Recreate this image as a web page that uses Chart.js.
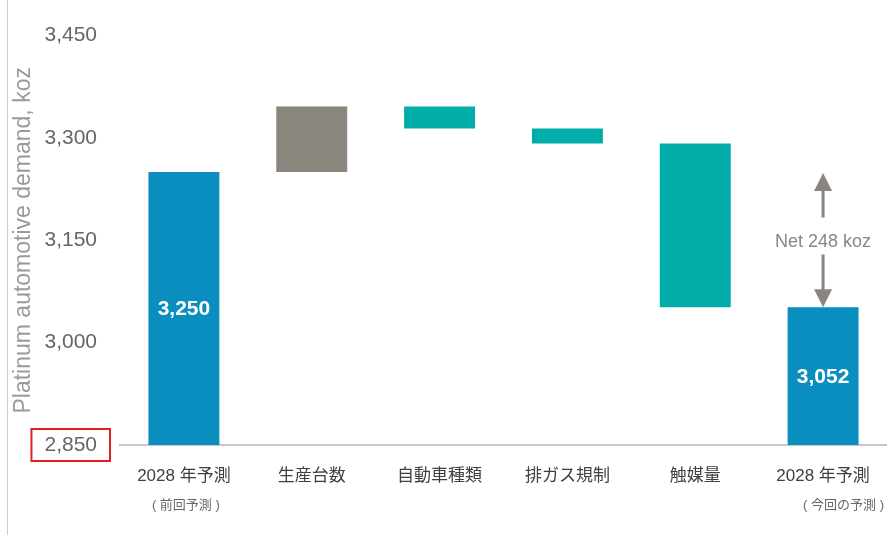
<!DOCTYPE html>
<html>
<head>
<meta charset="utf-8">
<script src="https://cdn.jsdelivr.net/npm/chart.js@4"></script>
<style>
  html, body { margin: 0; padding: 0; background: #ffffff; }
  #c { display: block; }
</style>
</head>
<body>
<canvas id="c" width="887" height="535"></canvas>
<script>
// Waterfall of 2028 platinum automotive demand, previous vs. current forecast (koz)
const categories = ['2028 年予測', '生産台数', '自動車種類', '排ガス規制', '触媒量', '2028 年予測'];
const subLabels = ['( 前回予測 )', '', '', '', '', '( 今回の予測 )'];
const baseline = 2850;
const previousForecast = 3250;
const stepChanges = [96, -32, -22, -240];
const currentForecast = 3052;
const yTicks = [2850, 3000, 3150, 3300, 3450];
const netLabel = 'Net 248 koz';
const highlightedTick = 2850;

const FONT = "'Liberation Sans', Arial, 'Noto Sans CJK JP', sans-serif";
const BLUE = '#0A8EBF', GREY = '#8B867D', TEAL = '#00ADA8';

// floating [from, to] ranges for each bar
const ranges = [[baseline, previousForecast]];
let level = previousForecast;
stepChanges.forEach(d => { ranges.push([level, level + d]); level += d; });
ranges.push([baseline, currentForecast]);

const barColors = [BLUE, GREY, TEAL, TEAL, TEAL, BLUE];
const fmt = v => Number(v).toLocaleString('en-US');

const decorations = {
  id: 'decorations',
  beforeDraw(chart) {
    const ctx = chart.ctx;
    ctx.save();
    ctx.strokeStyle = '#cccccc';
    ctx.lineWidth = 1;
    ctx.beginPath();
    ctx.moveTo(7.5, 0);
    ctx.lineTo(7.5, chart.height);
    ctx.stroke();
    ctx.restore();
  },
  afterDraw(chart) {
    const ctx = chart.ctx;
    const xs = chart.scales.x, ys = chart.scales.y;
    const meta = chart.getDatasetMeta(0);
    ctx.save();

    // values written inside the two forecast bars
    ctx.fillStyle = '#ffffff';
    ctx.font = 'bold 21px ' + FONT;
    ctx.textAlign = 'center';
    ctx.textBaseline = 'middle';
    [[0, previousForecast], [5, currentForecast]].forEach(([i, v]) => {
      const bar = meta.data[i];
      ctx.fillText(fmt(v), bar.x, (bar.y + bar.base) / 2 + 1);
    });

    // second-line notes under the first and last categories
    ctx.fillStyle = '#666666';
    ctx.font = '13px ' + FONT;
    ctx.textAlign = 'left';
    ctx.fillText(subLabels[0], xs.getPixelForValue(0) - 32, 505);
    ctx.fillText(subLabels[5], xs.getPixelForValue(5) - 20, 505);

    // net change arrows
    const ax = xs.getPixelForValue(5);
    const yTop = ys.getPixelForValue(previousForecast);
    const yBot = ys.getPixelForValue(currentForecast);
    const yMid = (yTop + yBot) / 2 + 2;
    ctx.fillStyle = GREY;
    ctx.strokeStyle = GREY;
    ctx.lineWidth = 3;
    ctx.beginPath();
    ctx.moveTo(ax, yTop + 18); ctx.lineTo(ax, yMid - 24);
    ctx.moveTo(ax, yMid + 13); ctx.lineTo(ax, yBot - 17);
    ctx.stroke();
    ctx.beginPath();
    ctx.moveTo(ax, yTop + 1); ctx.lineTo(ax - 9, yTop + 19); ctx.lineTo(ax + 9, yTop + 19); ctx.closePath();
    ctx.fill();
    ctx.beginPath();
    ctx.moveTo(ax, yBot); ctx.lineTo(ax - 9, yBot - 18); ctx.lineTo(ax + 9, yBot - 18); ctx.closePath();
    ctx.fill();
    ctx.font = '18px ' + FONT;
    ctx.textAlign = 'center';
    ctx.fillText(netLabel, ax, yMid);

    // red frame around the axis minimum label
    ctx.font = '21px ' + FONT;
    const w = ctx.measureText(fmt(highlightedTick)).width;
    const right = ys.right - ys.options.ticks.padding;
    const cy = ys.getPixelForValue(highlightedTick);
    ctx.strokeStyle = '#E02020';
    ctx.lineWidth = 2;
    ctx.strokeRect(right - w - 13, cy - 16, w + 26, 32);
    ctx.restore();
  }
};

new Chart(document.getElementById('c'), {
  type: 'bar',
  data: {
    labels: categories,
    datasets: [{
      data: ranges,
      backgroundColor: barColors,
      borderWidth: 0,
      categoryPercentage: 0.555,
      barPercentage: 1.0
    }]
  },
  options: {
    responsive: false,
    animation: false,
    devicePixelRatio: 1,
    layout: { padding: { top: 35, left: 0, right: 0, bottom: 0 } },
    plugins: { legend: { display: false }, tooltip: { enabled: false } },
    scales: {
      x: {
        grid: { display: false, drawTicks: false },
        border: { display: true, color: '#c8c8c8', width: 2 },
        ticks: {
          color: '#404040',
          font: { size: 17, family: FONT },
          padding: 21,
          autoSkip: false,
          maxRotation: 0,
          minRotation: 0
        },
        afterFit(s) { s.height = 90; s.paddingLeft = 0; s.paddingRight = 0; }
      },
      y: {
        min: baseline,
        max: 3450,
        grid: { display: false, drawTicks: false },
        border: { display: false },
        afterBuildTicks(s) { s.ticks = yTicks.map(v => ({ value: v })); },
        ticks: {
          color: '#666666',
          font: { size: 21, family: FONT },
          padding: 23,
          callback: v => fmt(v)
        },
        title: {
          display: true,
          text: 'Platinum automotive demand, koz',
          color: '#9a9a9a',
          font: { size: 23, family: FONT },
          padding: { top: 10, bottom: 0 }
        },
        afterFit(s) { s.width = 120; }
      }
    }
  },
  plugins: [decorations]
});
</script>
</body>
</html>
